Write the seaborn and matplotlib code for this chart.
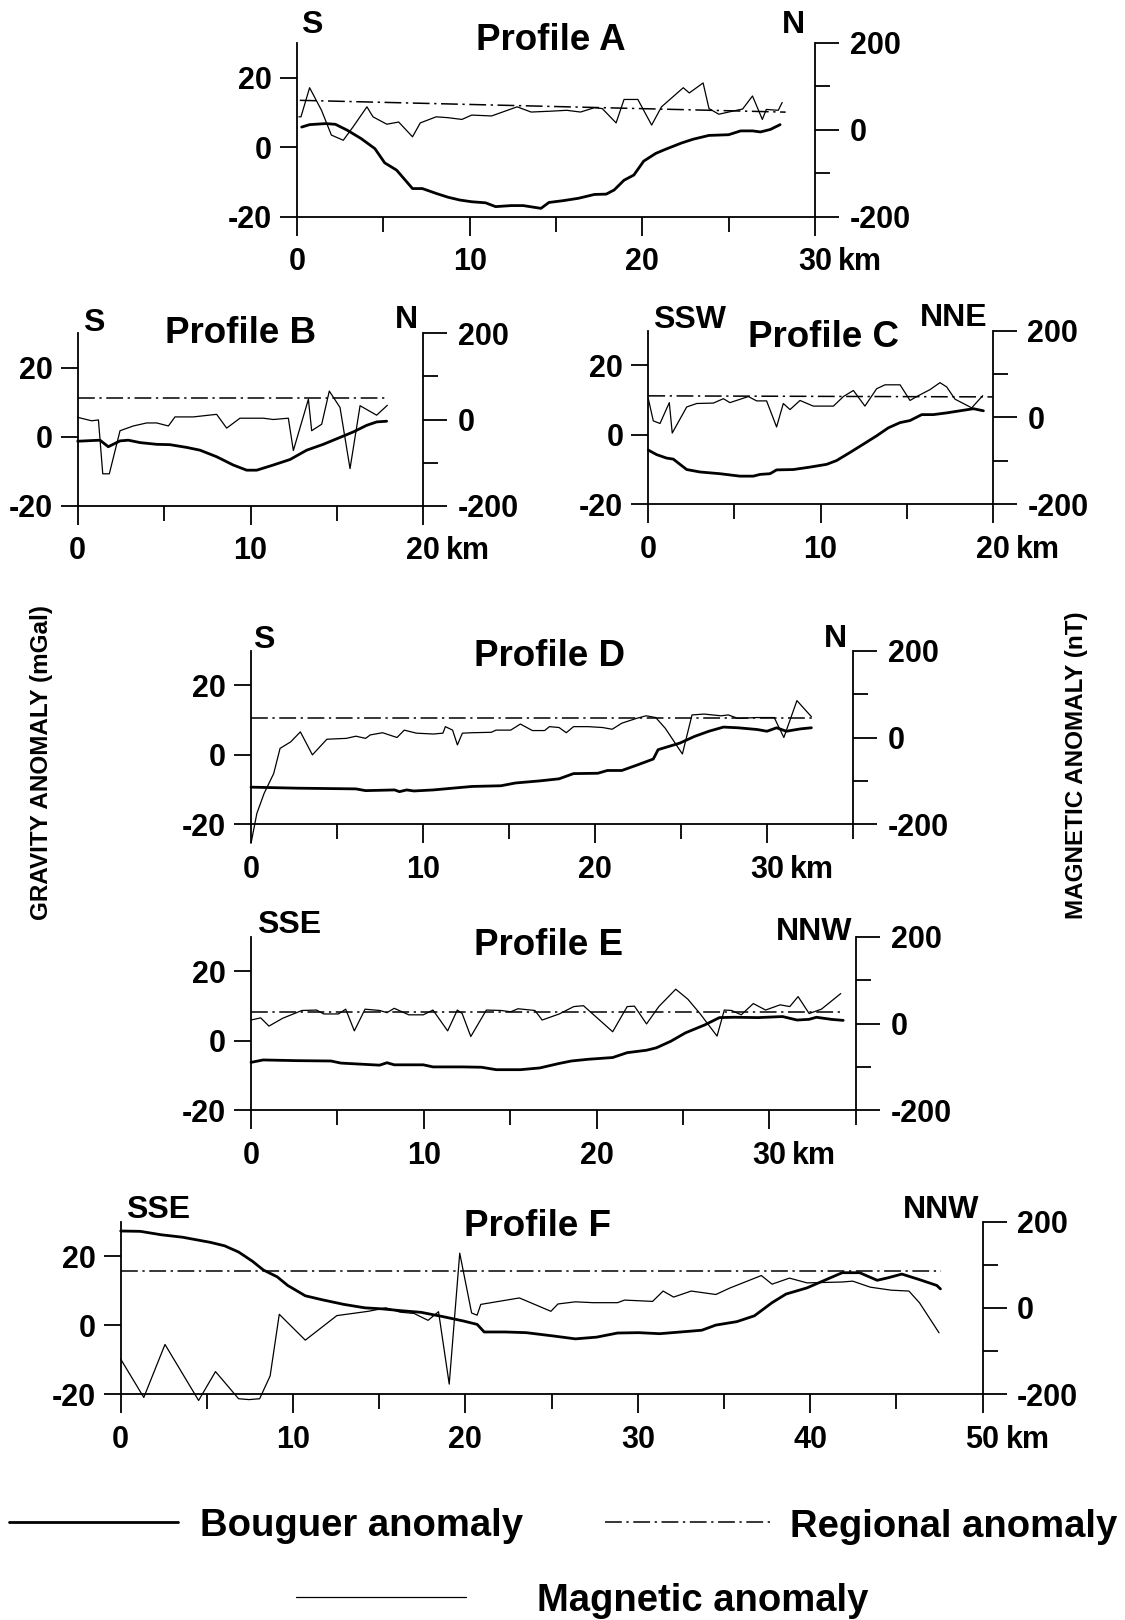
import matplotlib
matplotlib.use("Agg")
import matplotlib.pyplot as plt
from matplotlib.lines import Line2D
import seaborn as sns

# ---- Profile A ----
a_bouguer_km = [0.27, 0.73, 1.65, 2.22, 2.91, 3.71, 4.51, 5.08, 5.77, 6.69, 7.26, 8.06, 8.75, 9.43,
                10.12, 10.92, 11.5, 12.41, 13.1, 14.13, 14.59, 15.39, 16.3, 17.22, 17.91, 18.37,
                18.94, 19.51, 20.08, 20.77, 21.34, 22.26, 22.94, 23.86, 25.0, 25.69, 26.38, 26.84,
                27.41, 27.98]
a_bouguer_mgal = [5.8, 6.5, 6.8, 6.6, 4.9, 2.5, -0.4, -4.5, -6.6, -11.9, -11.9, -13.3, -14.4, -15.2,
                  -15.7, -16.0, -17.1, -16.8, -16.8, -17.6, -15.9, -15.4, -14.7, -13.6, -13.5, -12.3,
                  -9.5, -8.0, -4.0, -1.8, -0.6, 1.2, 2.3, 3.4, 3.6, 4.7, 4.7, 4.4, 5.1, 6.5]
a_magnetic_km = [0.11, 0.23, 0.73, 1.42, 1.99, 2.68, 3.25, 4.05, 4.40, 5.2, 5.89, 6.69, 7.14, 8.06,
                 8.75, 9.55, 10.12, 11.27, 12.75, 13.56, 14.7, 15.62, 16.42, 17.22, 17.68, 18.48,
                 18.94, 19.74, 20.54, 21.11, 22.37, 22.72, 23.52, 23.86, 24.43, 25.0, 25.81, 26.38,
                 26.95, 27.18, 27.87, 28.1]
a_magnetic_nt = [30, 30, 97, 45, -12, -24, 7, 53, 30, 13, 18, -16, 16, 30, 28, 24, 34, 32, 53, 41,
                 43, 45, 41, 51, 49, 16, 70, 70, 11, 53, 97, 85, 108, 49, 36, 41, 48, 78, 24, 47,
                 45, 63]
a_regional_km = [0.16, 28.3]
a_regional_mgal = [13.5, 10.1]

# ---- Profile B ----
b_bouguer_km = [0, 1.29, 1.77, 2.45, 2.93, 3.61, 4.57, 5.34, 6.31, 7.08, 8.04, 9.0, 9.78, 10.36,
                11.32, 12.29, 13.25, 14.21, 15.18, 15.95, 16.72, 17.3, 17.88]
b_bouguer_mgal = [-1.3, -1.0, -2.9, -1.2, -1.0, -1.7, -2.2, -2.3, -3.1, -3.9, -5.8, -8.2, -9.7, -9.7,
                  -8.2, -6.6, -3.9, -2.2, -0.2, 1.4, 3.3, 4.3, 4.5]
b_magnetic_km = [0, 0.81, 1.2, 1.45, 1.83, 2.45, 3.22, 3.99, 4.57, 5.25, 5.63, 6.69, 8.04, 8.62,
                 9.39, 10.74, 11.32, 12.19, 12.48, 13.35, 13.54, 14.12, 14.56, 15.18, 15.76, 16.34,
                 17.3, 17.92]
b_magnetic_nt = [5, -3, -1, -126, -126, -26, -15, -8, -8, -15, 6, 6, 12, -20, 3, 3, 0, 3, -72, 47,
                 -26, -11, 66, 28, -114, 32, 10, 33]
b_regional_km = [0, 17.97]
b_regional_mgal = [11.2, 11.2]

# ---- Profile C ----
c_bouguer_km = [0, 0.48, 1.06, 1.45, 2.23, 3.0, 4.16, 5.32, 6.1, 6.49, 7.07, 7.45, 8.42, 9.39,
                10.36, 10.94, 11.71, 12.49, 13.26, 13.94, 14.62, 15.2, 15.88, 16.55, 17.33, 18.1,
                18.88, 19.46]
c_bouguer_mgal = [-4.4, -5.7, -6.7, -7.0, -10.0, -10.7, -11.2, -11.9, -11.9, -11.4, -11.2, -10.1,
                  -10.0, -9.3, -8.5, -7.4, -5.1, -2.7, -0.3, 2.0, 3.5, 4.1, 5.8, 5.8, 6.3, 6.9, 7.5,
                  6.9]
c_magnetic_km = [0, 0.29, 0.68, 1.22, 1.39, 2.23, 2.81, 3.78, 4.36, 4.74, 5.81, 6.29, 6.87, 7.45,
                 7.84, 8.23, 8.81, 9.58, 10.75, 11.33, 11.91, 12.58, 13.26, 13.75, 14.62, 15.2,
                 15.59, 16.36, 16.94, 17.33, 17.81, 18.78, 19.42]
c_magnetic_nt = [43, -8, -14, 34, -36, 24, 32, 33, 43, 34, 48, 38, 38, -22, 32, 18, 39, 26, 26, 48,
                 62, 26, 66, 75, 75, 39, 48, 64, 80, 70, 42, 22, 50]
c_regional_km = [0, 20]
c_regional_mgal = [11.2, 10.9]

# ---- Profile D ----
d_bouguer_km = [0, 2.73, 6.1, 6.66, 8.35, 8.63, 9.05, 9.47, 10.6, 11.72, 12.85, 14.53, 15.38, 16.78,
                17.91, 18.75, 20.16, 20.72, 21.56, 22.41, 23.39, 23.67, 24.94, 25.78, 26.62, 27.47,
                28.31, 29.43, 30.0, 30.56, 31.12, 31.97, 32.58]
d_bouguer_mgal = [-9.3, -9.6, -9.8, -10.3, -10.1, -10.6, -10.1, -10.4, -10.1, -9.6, -9.1, -8.9, -8.1,
                  -7.5, -6.9, -5.4, -5.3, -4.5, -4.5, -3.0, -1.2, 1.5, 3.4, 5.3, 6.8, 8.0, 7.8, 7.3,
                  6.8, 7.8, 6.8, 7.5, 7.8]
d_magnetic_km = [0, 0.34, 0.76, 1.32, 1.69, 2.31, 2.87, 3.57, 4.41, 5.54, 6.1, 6.66, 6.94, 7.65,
                 8.49, 8.91, 9.61, 10.6, 11.16, 11.3, 11.72, 12.0, 12.29, 12.85, 13.97, 14.25, 15.1,
                 15.66, 16.36, 17.07, 17.35, 17.91, 18.33, 18.75, 19.6, 20.44, 21.0, 21.56, 22.41,
                 22.97, 23.53, 24.09, 25.08, 25.64, 26.34, 27.33, 27.75, 28.31, 29.43, 30.42, 30.98,
                 31.74, 32.58]
d_magnetic_nt = [-244, -175, -129, -83, -25, -10, 13, -40, -4, -2, 3, -2, 6, 11, 0, 17, 10, 8, 10,
                 25, 17, -17, 10, 11, 12, 17, 17, 31, 16, 16, 25, 23, 11, 25, 25, 23, 19, 33, 44,
                 50, 46, 21, -38, 52, 54, 50, 52, 44, 46, 46, 0, 85, 48]
d_regional_km = [0, 32.6]
d_regional_mgal = [10.5, 10.5]

# ---- Profile E ----
e_bouguer_km = [0, 0.7, 2.67, 4.63, 5.2, 6.32, 7.44, 7.87, 8.29, 9.97, 10.53, 12.22, 13.34, 14.19,
                15.59, 16.71, 17.84, 18.54, 19.52, 20.93, 21.77, 22.89, 23.46, 24.3, 25.14, 26.26,
                27.11, 27.95, 29.35, 30.76, 31.6, 32.3, 32.72, 33.57, 34.27]
e_bouguer_mgal = [-6.2, -5.5, -5.7, -5.8, -6.4, -6.7, -7.0, -6.3, -6.9, -6.9, -7.5, -7.5, -7.6, -8.3,
                  -8.3, -7.8, -6.5, -5.8, -5.3, -4.8, -3.4, -2.7, -2.0, -0.1, 2.3, 4.6, 6.7, 6.8,
                  6.7, 7.0, 6.0, 6.2, 6.8, 6.2, 5.9]
e_magnetic_km = [0, 0.56, 1.04, 1.83, 2.95, 3.79, 4.21, 5.06, 5.48, 5.98, 6.6, 7.44, 7.87, 8.29,
                 9.13, 9.97, 10.53, 11.38, 11.94, 12.22, 12.72, 13.62, 14.47, 15.03, 15.45, 16.43,
                 16.85, 17.84, 18.68, 19.24, 20.93, 21.77, 22.19, 22.89, 23.6, 24.58, 25.28, 25.98,
                 26.97, 27.39, 27.81, 28.37, 29.07, 29.78, 30.62, 31.18, 31.66, 32.3, 33.01, 34.13]
e_magnetic_nt = [8, 13, -6, 12, 30, 31, 22, 22, 33, -17, 33, 30, 25, 35, 20, 20, 31, -17, 31, 23,
                 -30, 31, 30, 27, 34, 30, 8, 22, 39, 41, -19, 39, 40, -1, 39, 79, 56, 23, -29, 31,
                 30, 20, 46, 31, 43, 39, 62, 23, 33, 69]
e_regional_km = [0, 34.3]
e_regional_mgal = [8.4, 8.4]

# ---- Profile F ----
f_bouguer_km = [0, 1.14, 2.36, 3.58, 5.21, 6.03, 6.84, 7.65, 8.27, 9.08, 9.69, 10.71, 11.73, 12.95,
                14.17, 15.19, 16.21, 17.43, 18.65, 19.87, 20.68, 21.09, 22.31, 23.53, 25.16, 26.38,
                27.61, 28.83, 30.05, 31.27, 32.49, 33.71, 34.53, 35.75, 36.77, 37.79, 38.6, 39.82,
                40.84, 41.86, 42.87, 43.89, 44.5, 45.32, 46.34, 47.35, 47.56]
f_bouguer_mgal = [27.3, 27.2, 26.2, 25.5, 24.0, 23.0, 21.2, 18.5, 16.0, 14.0, 11.5, 8.5, 7.3, 6.0,
                  5.0, 4.7, 4.2, 3.7, 2.5, 1.2, 0.2, -2.0, -2.0, -2.2, -3.2, -4.0, -3.5, -2.3, -2.2,
                  -2.5, -2.0, -1.5, 0.0, 1.0, 2.7, 6.5, 9.0, 10.8, 13.0, 15.2, 15.2, 13.0, 13.7,
                  14.8, 13.2, 11.5, 10.5]
f_magnetic_km = [0, 1.34, 2.57, 4.52, 5.5, 6.84, 7.45, 8.06, 8.67, 9.2, 10.71, 12.54, 14.37, 15.39,
                 16.21, 17.02, 17.83, 18.44, 19.06, 19.67, 20.36, 20.68, 20.89, 23.13, 24.96, 25.37,
                 26.38, 27.4, 28.83, 29.23, 30.86, 31.47, 32.08, 33.1, 34.53, 35.34, 37.17, 37.79,
                 38.8, 39.82, 41.86, 42.47, 43.49, 44.71, 45.73, 46.34, 47.48]
f_magnetic_nt = [-119, -208, -85, -215, -148, -211, -213, -211, -158, -15, -75, -18, -8, 0, -10,
                 -13, -29, -9, -177, 127, -12, -17, 8, 23, -8, 9, 14, 12, 12, 18, 15, 39, 25, 39,
                 31, 46, 75, 55, 69, 58, 60, 62, 48, 41, 39, 12, -58]
f_regional_km = [0, 47.6]
f_regional_mgal = [15.7, 15.7]

profile_names = ["Profile A", "Profile B", "Profile C", "Profile D", "Profile E", "Profile F"]
start_dirs = ["S", "S", "SSW", "S", "SSE", "SSE"]
end_dirs = ["N", "N", "NNE", "N", "NNW", "NNW"]
xmax_km = [30, 20, 20, 35, 35, 50]
last_label_km = [30, 20, 20, 30, 30, 50]

sns.set_theme(style="ticks")
plt.rcParams["font.family"] = ["Liberation Sans", "DejaVu Sans"]
plt.rcParams["font.weight"] = "bold"
plt.rcParams["text.color"] = "black"
plt.rcParams["xtick.color"] = "black"
plt.rcParams["ytick.color"] = "black"

W, H = 1125, 1620
fig = plt.figure(figsize=(W / 100, H / 100), dpi=100)
fig.patch.set_facecolor("white")


def fx(x):
    return x / W


def fy(y):
    return 1 - y / H


REG_DASH = (0, (11, 3, 1.5, 3))

# axes boxes in pixels: left, top, right, bottom
boxes = [(297, 43, 815, 216.7), (77.7, 333.3, 423.3, 505.7), (648.3, 330.5, 992.7, 504.3),
         (251, 650.7, 853, 824.3), (251, 936.7, 855.8, 1110.3), (120.7, 1221.7, 982.5, 1394)]
title_pos = [(551, 50), (241, 343), (823, 347), (549, 666), (548, 955), (537, 1236.5)]
start_pos = [(301, 33), (83, 331), (653, 328), (253, 648), (257, 933), (126, 1218)]
end_pos = [(805, 33), (418, 328), (987, 326), (847, 647), (852, 940), (979, 1218)]

series = [
    (a_bouguer_km, a_bouguer_mgal, a_magnetic_km, a_magnetic_nt, a_regional_km, a_regional_mgal),
    (b_bouguer_km, b_bouguer_mgal, b_magnetic_km, b_magnetic_nt, b_regional_km, b_regional_mgal),
    (c_bouguer_km, c_bouguer_mgal, c_magnetic_km, c_magnetic_nt, c_regional_km, c_regional_mgal),
    (d_bouguer_km, d_bouguer_mgal, d_magnetic_km, d_magnetic_nt, d_regional_km, d_regional_mgal),
    (e_bouguer_km, e_bouguer_mgal, e_magnetic_km, e_magnetic_nt, e_regional_km, e_regional_mgal),
    (f_bouguer_km, f_bouguer_mgal, f_magnetic_km, f_magnetic_nt, f_regional_km, f_regional_mgal),
]

for i, (bk, bm, mk, mn, rk, rm) in enumerate(series):
    l, t, r, b = boxes[i]
    ax = fig.add_axes([fx(l), fy(b), (r - l) / W, (b - t) / H])
    ax2 = ax.twinx()
    ax.patch.set_visible(False)
    ax2.patch.set_visible(False)

    sns.lineplot(x=bk, y=bm, ax=ax, color="black", linewidth=2.0, sort=False,
                 estimator=None, clip_on=False)
    sns.lineplot(x=rk, y=rm, ax=ax, color="black", linewidth=1.1, linestyle=REG_DASH,
                 sort=False, estimator=None, clip_on=False)
    sns.lineplot(x=mk, y=mn, ax=ax2, color="black", linewidth=0.9, sort=False,
                 estimator=None, clip_on=False)

    xm = xmax_km[i]
    ax.set_xlim(0, xm)
    ax.set_ylim(-20, 30)
    ax2.set_ylim(-200, 200)

    for s in ["top", "right"]:
        ax.spines[s].set_visible(False)
    for s in ["top", "left", "bottom"]:
        ax2.spines[s].set_visible(False)
    for s in ["left", "bottom"]:
        ax.spines[s].set_linewidth(1.3)
        ax.spines[s].set_color("black")
    ax2.spines["right"].set_linewidth(1.3)
    ax2.spines["right"].set_color("black")

    ax.set_yticks([-20, 0, 20])
    ax.set_yticklabels(["-20", "0", "20"])
    major = list(range(0, last_label_km[i] + 1, 10))
    ax.set_xticks(major)
    ax.set_xticklabels([str(v) for v in major])
    ax.set_xticks(list(range(5, xm + 1, 10)), minor=True)
    ax.tick_params(axis="y", direction="out", length=12, width=1.3, pad=6, labelsize=22,
                   colors="black")
    ax.tick_params(axis="x", which="major", direction="out", length=14, width=1.3, pad=8,
                   labelsize=22, colors="black")
    ax.tick_params(axis="x", which="minor", direction="out", length=11, width=1.3, colors="black")

    ax2.set_yticks([-200, 0, 200])
    ax2.set_yticklabels(["-200", "0", "200"])
    ax2.set_yticks([-100, 100], minor=True)
    ax2.tick_params(axis="y", which="major", direction="out", length=17, width=1.3, pad=8,
                    labelsize=22, colors="black")
    ax2.tick_params(axis="y", which="minor", direction="out", length=11, width=1.3,
                    colors="black")
    ax.set_xlabel("")
    ax.set_ylabel("")
    ax2.set_ylabel("")

    ax.annotate("km", xy=(last_label_km[i], 0), xycoords=("data", "axes fraction"),
                xytext=(16.5, -22), textcoords="offset points", ha="left", va="top",
                fontsize=22, fontweight="bold", color="black", annotation_clip=False)

    fig.text(fx(title_pos[i][0]), fy(title_pos[i][1]), profile_names[i], ha="center",
             va="baseline", fontsize=26.5, fontweight="bold", color="black")
    fig.text(fx(start_pos[i][0]), fy(start_pos[i][1]), start_dirs[i], ha="left",
             va="baseline", fontsize=23, fontweight="bold", color="black")
    fig.text(fx(end_pos[i][0]), fy(end_pos[i][1]), end_dirs[i], ha="right",
             va="baseline", fontsize=23, fontweight="bold", color="black")

fig.text(fx(42), fy(763), "GRAVITY ANOMALY (mGal)", rotation=90, ha="center", va="center",
         fontsize=17.5, fontweight="bold", color="black")
fig.text(fx(1076), fy(765), "MAGNETIC ANOMALY (nT)", rotation=90, ha="center", va="center",
         fontsize=17.5, fontweight="bold", color="black")

# legend
fig.add_artist(Line2D([fx(9), fx(178)], [fy(1522), fy(1522)], transform=fig.transFigure,
                      color="black", linewidth=2.0))
fig.add_artist(Line2D([fx(605), fx(773)], [fy(1522), fy(1522)], transform=fig.transFigure,
                      color="black", linewidth=1.1, linestyle=REG_DASH))
fig.add_artist(Line2D([fx(296), fx(466)], [fy(1597), fy(1597)], transform=fig.transFigure,
                      color="black", linewidth=0.9))
fig.text(fx(200), fy(1536), "Bouguer anomaly", ha="left", va="baseline", fontsize=27.5,
         fontweight="bold", color="black")
fig.text(fx(790), fy(1537), "Regional anomaly", ha="left", va="baseline", fontsize=27.5,
         fontweight="bold", color="black")
fig.text(fx(537), fy(1611), "Magnetic anomaly", ha="left", va="baseline", fontsize=27.5,
         fontweight="bold", color="black")

fig.savefig("out.png", dpi=100, facecolor="white")
